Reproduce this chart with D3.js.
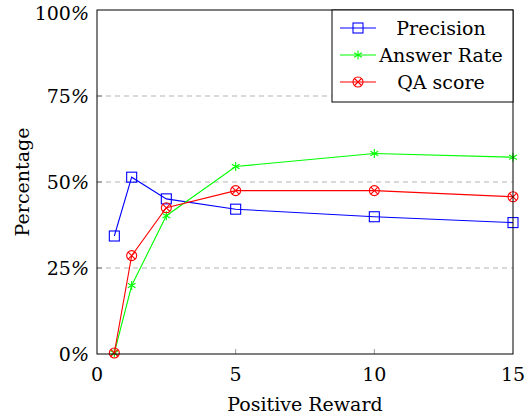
<!DOCTYPE html>
<html>
<head>
<meta charset="utf-8">
<script src="https://cdn.jsdelivr.net/npm/d3@7"></script>
<style>
body { margin: 0; background: #fff; }
svg text { font-family: "DejaVu Serif", "Times New Roman", serif; }
</style>
</head>
<body>
<svg id="myGraph"></svg>
<script>
var width = 531;
var height = 419;

// data
var rewards = [0.625, 1.25, 2.5, 5, 10, 15];
var precision = [34.3, 51.4, 45.1, 42.1, 39.9, 38.2];
var answerRate = [0.3, 19.9, 40.2, 54.5, 58.3, 57.2];
var qaScore = [0.3, 28.6, 42.5, 47.5, 47.5, 45.7];
var xTicks = [0, 5, 10, 15];
var yTicks = [0, 25, 50, 75, 100];
var seriesNames = ["Precision", "Answer Rate", "QA score"];

var series = [
    {name: seriesNames[0], values: precision, color: "#0000ff", marker: "square"},
    {name: seriesNames[1], values: answerRate, color: "#00ff00", marker: "star"},
    {name: seriesNames[2], values: qaScore, color: "#ff0000", marker: "otimes"}
];

var margin = {left: 97, right: 18, top: 10, bottom: 65};
var fs = 19;

var svg = d3.select("#myGraph")
    .attr("width", width)
    .attr("height", height);

var x = d3.scaleLinear().domain([0, 15]).range([margin.left, width - margin.right]);
var y = d3.scaleLinear().domain([0, 100]).range([height - margin.bottom, margin.top]);

// grid
svg.selectAll("line.grid")
    .data([25, 50, 75])
    .enter().append("line")
    .attr("x1", x(0)).attr("x2", x(15))
    .attr("y1", function(d) { return y(d); })
    .attr("y2", function(d) { return y(d); })
    .attr("stroke", "#b3b3b3")
    .attr("stroke-width", 1)
    .attr("stroke-dasharray", "5,4");

// inner ticks
svg.selectAll("line.xt")
    .data(xTicks.slice(1, 3))
    .enter().append("line")
    .attr("x1", function(d) { return x(d); })
    .attr("x2", function(d) { return x(d); })
    .attr("y1", y(0)).attr("y2", y(0) - 5)
    .attr("stroke", "#999");

svg.selectAll("line.yt")
    .data(yTicks.slice(1, 4))
    .enter().append("line")
    .attr("x1", x(0)).attr("x2", x(0) + 5)
    .attr("y1", function(d) { return y(d); })
    .attr("y2", function(d) { return y(d); })
    .attr("stroke", "#777");

// tick labels
svg.selectAll("text.xl")
    .data(xTicks)
    .enter().append("text")
    .attr("font-size", fs)
    .attr("x", function(d) { return x(d); })
    .attr("y", y(0) + 27)
    .attr("text-anchor", "middle")
    .text(function(d) { return d; });

var yl = svg.selectAll("text.yl")
    .data(yTicks)
    .enter().append("text")
    .attr("font-size", fs)
    .attr("x", x(0) - 8)
    .attr("y", function(d) { return Math.max(y(d) + 7, 20); })
    .attr("text-anchor", "end");
yl.append("tspan").text(function(d) { return d; });
yl.append("tspan").attr("font-style", "italic").text("%");

// axis titles
svg.append("text")
    .attr("font-size", fs)
    .attr("x", (x(0) + x(15)) / 2)
    .attr("y", 411)
    .attr("text-anchor", "middle")
    .text("Positive Reward");

svg.append("text")
    .attr("font-size", fs)
    .attr("transform", "translate(29," + y(50) + ") rotate(-90)")
    .attr("text-anchor", "middle")
    .text("Percentage");

// lines
var line = d3.line()
    .x(function(d, i) { return x(rewards[i]); })
    .y(function(d) { return y(d); });

function drawMarker(g, type, color) {
    if (type == "square") {
        g.append("rect").attr("x", -5).attr("y", -5).attr("width", 10).attr("height", 10)
            .attr("fill", "none").attr("stroke", color).attr("stroke-width", 1.1);
    } else if (type == "star") {
        [0, 60, 120].forEach(function(a) {
            g.append("line").attr("x1", 0).attr("y1", -4.5).attr("x2", 0).attr("y2", 4.5)
                .attr("transform", "rotate(" + a + ")")
                .attr("stroke", color).attr("stroke-width", 1.1);
        });
    } else {
        g.append("circle").attr("r", 5).attr("fill", "none").attr("stroke", color).attr("stroke-width", 1.1);
        g.append("path").attr("d", "M-3.5,-3.5L3.5,3.5M-3.5,3.5L3.5,-3.5")
            .attr("stroke", color).attr("stroke-width", 1.1);
    }
}

series.forEach(function(s) {
    svg.append("path")
        .attr("d", line(s.values))
        .attr("fill", "none")
        .attr("stroke", s.color)
        .attr("stroke-width", 1.1);
    s.values.forEach(function(v, i) {
        var g = svg.append("g").attr("transform", "translate(" + x(rewards[i]) + "," + y(v) + ")");
        drawMarker(g, s.marker, s.color);
    });
});

// frame
svg.append("rect")
    .attr("x", x(0)).attr("y", y(100))
    .attr("width", x(15) - x(0)).attr("height", y(0) - y(100))
    .attr("fill", "none").attr("stroke", "#000").attr("stroke-width", 1);

// legend
var lg = svg.append("g");
lg.append("rect")
    .attr("x", 332).attr("y", y(100))
    .attr("width", x(15) - 332).attr("height", 92)
    .attr("fill", "#fff").attr("stroke", "#000").attr("stroke-width", 1);

series.forEach(function(s, i) {
    var cy = 28 + i * 27;
    lg.append("line").attr("x1", 340).attr("x2", 376).attr("y1", cy).attr("y2", cy)
        .attr("stroke", s.color).attr("stroke-width", 1.1);
    drawMarker(lg.append("g").attr("transform", "translate(358," + cy + ")"), s.marker, s.color);
    lg.append("text")
        .attr("font-size", fs)
        .attr("x", 441).attr("y", cy + 7)
        .attr("text-anchor", "middle")
        .text(s.name);
});
</script>
</body>
</html>
